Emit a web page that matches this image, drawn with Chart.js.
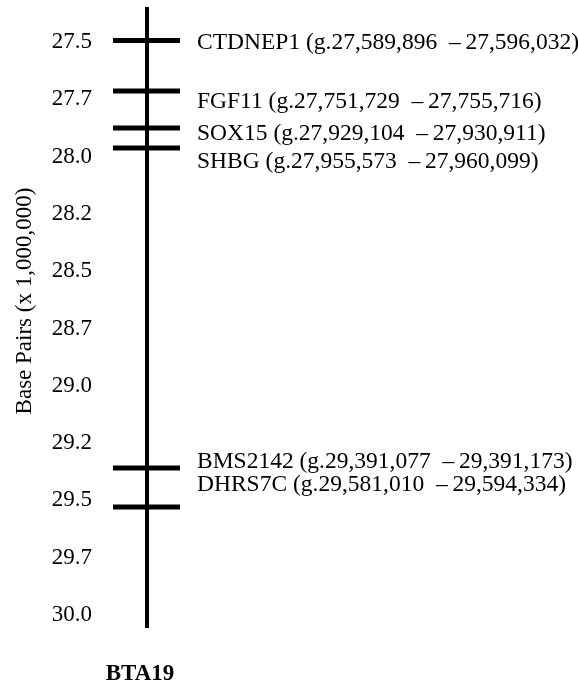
<!DOCTYPE html>
<html>
<head>
<meta charset="utf-8">
<script src="https://cdn.jsdelivr.net/npm/chart.js@4/dist/chart.umd.min.js"></script>
<style>
  body { margin: 0; background: #fff; }
  #box { width: 578px; height: 683px; }
</style>
</head>
<body>
<div id="box"><canvas id="grafico" width="578" height="683"></canvas></div>
<script>
// chromosome BTA19, axis in Mb
var chromExtent = [27.347, 30.057];
var tickValues = [27.5, 27.75, 28.0, 28.25, 28.5, 28.75, 29.0, 29.25, 29.5, 29.75, 30.0];
var tickLabels = ['27.5', '27.7', '28.0', '28.2', '28.5', '28.7', '29.0', '29.2', '29.5', '29.7', '30.0'];

// genes: where the mark is drawn on the axis, and the real coordinates
var geneNames = ['CTDNEP1', 'FGF11', 'SOX15', 'SHBG', 'BMS2142', 'DHRS7C'];
var genePos = [27.493, 27.714, 27.875, 27.962, 29.359, 29.529];
var geneStart = [27589896, 27751729, 27929104, 27955573, 29391077, 29581010];
var geneEnd = [27596032, 27755716, 27930911, 27960099, 29391173, 29594334];

var fonte = '"Liberation Serif", "Times New Roman", serif';

// labels are nudged a little off their marks so they don't collide
var labelShift = [2.5, 11, 5.7, 14, -6.7, -21.7];

var rotulos = {
    id: 'rotulos',
    afterDatasetsDraw: function (chart) {
        var ctx = chart.ctx;
        var y = chart.scales.y;
        ctx.save();
        ctx.fillStyle = '#000';
        ctx.font = '23.5px ' + fonte;
        ctx.textAlign = 'left';
        ctx.textBaseline = 'middle';
        for (var i = 0; i < geneNames.length; i++) {
            var txt = geneNames[i] + ' (g.' + geneStart[i].toLocaleString('en-US') +
                '  \u2013\u2009' + geneEnd[i].toLocaleString('en-US') + ')';
            ctx.fillText(txt, 197, y.getPixelForValue(genePos[i]) + labelShift[i]);
        }
        // axis title, sits a bit above the middle of the axis in the original
        ctx.font = '23px ' + fonte;
        ctx.textAlign = 'center';
        ctx.translate(25, 301);
        ctx.rotate(-Math.PI / 2);
        ctx.fillText('Base Pairs (x 1,000,000)', 0, 0);
        ctx.restore();
    }
};

var ctx = document.getElementById('grafico').getContext('2d');
var grafico = new Chart(ctx, {
    type: 'scatter',
    data: {
        datasets: [
            {
                label: 'BTA19',
                data: chromExtent.map(function (v) { return { x: 0, y: v }; }),
                showLine: true,
                borderColor: '#000',
                borderWidth: 4,
                pointRadius: 0
            },
            {
                label: 'genes',
                data: genePos.map(function (v) { return { x: 0, y: v }; }),
                showLine: false,
                pointStyle: 'line',
                pointRadius: 34,
                pointHoverRadius: 34,
                borderColor: '#000',
                borderWidth: 5,
                pointBorderWidth: 5
            }
        ]
    },
    options: {
        responsive: false,
        animation: false,
        layout: { autoPadding: false, padding: { top: 7, bottom: 0, left: 7, right: 398 } },
        plugins: {
            legend: { display: false },
            tooltip: { enabled: false }
        },
        scales: {
            x: {
                type: 'linear',
                min: -47,
                max: 33,
                grid: { display: false, drawTicks: false },
                border: { display: false },
                ticks: { display: false },
                title: {
                    display: true,
                    text: 'BTA19',
                    color: '#000',
                    font: { family: fonte, size: 23, weight: 'bold', lineHeight: 1.0 },
                    padding: { top: 35, bottom: -3 }
                }
            },
            y: {
                type: 'linear',
                reverse: true,
                min: chromExtent[0],
                max: chromExtent[1],
                afterBuildTicks: function (scale) {
                    scale.ticks = tickValues.map(function (v) { return { value: v }; });
                },
                afterFit: function (scale) {
                    scale.width = 93;
                    scale.paddingTop = 0;
                    scale.paddingBottom = 0;
                },
                grid: { display: false, drawTicks: false },
                border: { display: false },
                ticks: {
                    color: '#000',
                    padding: 8,
                    font: { family: fonte, size: 23 },
                    callback: function (v, i) { return tickLabels[i]; }
                }
            }
        }
    },
    plugins: [rotulos]
});
</script>
</body>
</html>
